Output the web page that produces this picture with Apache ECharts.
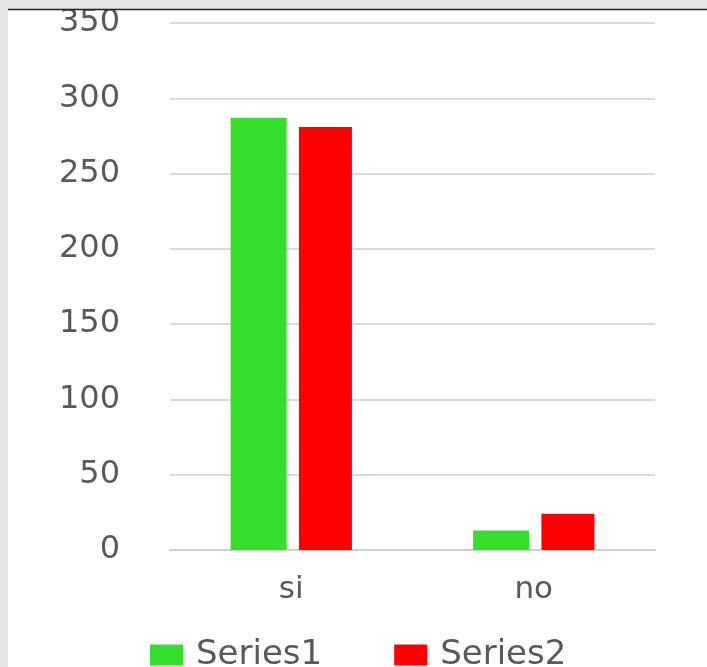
<!DOCTYPE html>
<html><head><meta charset="utf-8">
<script src="https://cdn.jsdelivr.net/npm/echarts@6/dist/echarts.min.js"></script>
<style>html,body{margin:0;padding:0;background:#fff}#main{width:707px;height:667px}</style>
</head><body><div id="main"></div>
<script>
const categories = ['si', 'no'];
const series1 = [287, 13];
const series2 = [281, 24];
const seriesNames = ['Series1', 'Series2'];
const yTicks = {min: 0, max: 350, interval: 50};

const chart = echarts.init(document.getElementById('main'));
const font = 'DejaVu Sans';
chart.setOption({
  animation: false,
  backgroundColor: '#ffffff',
  graphic: [
    {type: 'rect', shape: {x: 0, y: 0, width: 707, height: 9}, style: {fill: '#e4e5e7'}, z: 100},
    {type: 'rect', shape: {x: 0, y: 0, width: 8, height: 667}, style: {fill: '#e4e5e7'}, z: 100},
    {type: 'line', shape: {x1: 8, y1: 9.5, x2: 707, y2: 9.5}, style: {stroke: '#222', lineWidth: 1.5}, z: 100}
  ],
  grid: {left: 170, right: 52, top: 23, bottom: 117},
  legend: {
    data: seriesNames, top: 638, left: 150, itemWidth: 33, itemHeight: 21, itemGap: 72,
    icon: 'rect', padding: 0,
    textStyle: {fontFamily: font, fontSize: 34, color: '#595959', padding: [0, 0, 0, 8]}
  },
  xAxis: {
    type: 'category', data: categories,
    axisLine: {lineStyle: {color: '#d0d0d0', width: 2}},
    axisTick: {show: false},
    axisLabel: {fontFamily: font, fontSize: 31, color: '#595959', margin: 24}
  },
  yAxis: {
    type: 'value', min: yTicks.min, max: yTicks.max, interval: yTicks.interval,
    axisLine: {show: false}, axisTick: {show: false},
    splitLine: {lineStyle: {color: '#d9d9d9', width: 2}},
    axisLabel: {fontFamily: font, fontSize: 32, color: '#595959', margin: 50}
  },
  series: [
    {name: seriesNames[0], type: 'bar', data: series1, barWidth: 56, barGap: '22%', itemStyle: {color: '#35df2b'}},
    {name: seriesNames[1], type: 'bar', data: series2, barWidth: 53, itemStyle: {color: '#ff0000'}}
  ]
});
</script></body></html>
